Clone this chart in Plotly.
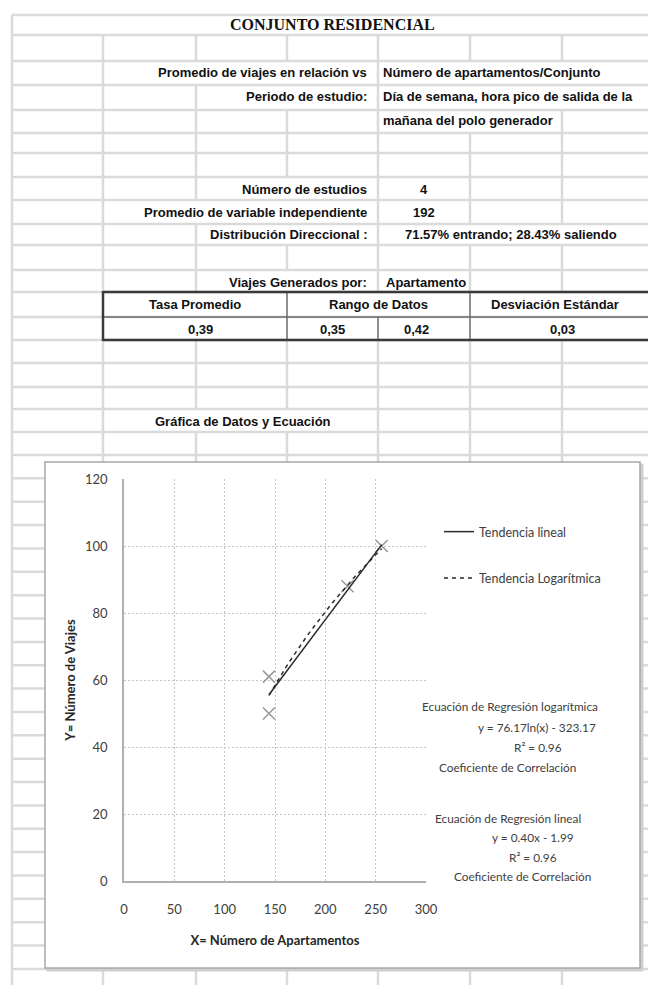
import numpy as np
import plotly.graph_objects as go

# ---------------- data ----------------
X_APTOS = [144, 144, 222, 256]          # X = Número de Apartamentos
Y_VIAJES = [61, 50, 88, 100]            # Y = Número de Viajes
LIN_COEF = [0.40, -1.99]                # y = a*x + b
LOG_COEF = [76.17, -323.17]             # y = a*ln(x) + b
TREND_NAMES = ["Tendencia lineal", "Tendencia Logarítmica"]
X_TICKS = [0, 50, 100, 150, 200, 250, 300]
Y_TICKS = [0, 20, 40, 60, 80, 100, 120]

TITLE = "CONJUNTO RESIDENCIAL"
INFO_LABELS = ["Promedio de viajes en relación vs", "Periodo de estudio:"]
INFO_VALUES = ["Número de apartamentos/Conjunto", "Día de semana, hora pico de salida de la",
               "mañana del polo generador"]
SUMMARY_LABELS = ["Número de estudios", "Promedio de variable independiente", "Distribución Direccional :"]
SUMMARY_VALUES = ["4", "192", "71.57% entrando; 28.43% saliendo"]
GEN_LABEL = ["Viajes Generados por:", "Apartamento"]
TABLE_HEADERS = ["Tasa Promedio", "Rango de Datos", "Desviación Estándar"]
TABLE_VALUES = ["0,39", "0,35", "0,42", "0,03"]
SECTION_LABEL = "Gráfica de Datos y Ecuación"
EQ_LOG = ["Ecuación de Regresión logarítmica", "y = 76.17ln(x) - 323.17", "R² = 0.96",
          "Coeficiente de Correlación"]
EQ_LIN = ["Ecuación de Regresión lineal", "y = 0.40x - 1.99", "R² = 0.96",
          "Coeficiente de Correlación"]

# ---------------- layout helpers ----------------
W, H = 648, 985


def px(x):
    return x / W


def py(y):
    return 1 - y / H


GRID = "#dadada"
GW = 2.5
DARK = "#3a3a3a"
MID = "#6a6a6a"

COLS = [12, 103, 196, 287, 378, 470, 562]
ROWS = [15, 35, 61, 85, 110, 133, 153, 177, 200, 224, 245, 270, 292, 317, 340, 363, 387, 409, 432, 455]
ALL = COLS
SEG_COLS = [
    [12],
    ALL,
    [12, 103, 378],
    [12, 103, 196, 378],
    [12, 103, 196, 287, 378, 562],
    ALL,
    ALL,
    [12, 103, 196, 378, 470, 562],
    [12, 103, 378, 470, 562],
    [12, 103, 196, 378],
    ALL,
    [12, 103, 196, 378, 470, 562],
    [12],
    [12],
    ALL,
    ALL,
    ALL,
    [12, 103, 378, 470, 562],
    ALL,
]

shapes = []


def hline(y, x0, x1, color=GRID, w=GW):
    shapes.append(dict(type="line", xref="paper", yref="paper", x0=px(x0), x1=px(x1),
                       y0=py(y), y1=py(y), line=dict(color=color, width=w), layer="below"))


def vline(x, y0, y1, color=GRID, w=GW):
    shapes.append(dict(type="line", xref="paper", yref="paper", x0=px(x), x1=px(x),
                       y0=py(y0), y1=py(y1), line=dict(color=color, width=w), layer="below"))


def rect(x0, y0, x1, y1, fill, color, w):
    shapes.append(dict(type="rect", xref="paper", yref="paper", x0=px(x0), x1=px(x1),
                       y0=py(y1), y1=py(y0), fillcolor=fill, line=dict(color=color, width=w),
                       layer="below"))


# spreadsheet grid (upper part)
for y in ROWS:
    hline(y, 12, 648)
for i, seg in enumerate(SEG_COLS):
    for x in seg:
        vline(x, ROWS[i], ROWS[i + 1])

# grid behind chart object
chart_rows = []
k = 1
while 455 + k * 23.36 < 985:
    chart_rows.append(455 + k * 23.36)
    k += 1
for y in chart_rows:
    hline(y, 12, 648)
for x in COLS:
    vline(x, 455, 985)

# summary table box
hline(317, 103, 648, MID, 1.5)
vline(287, 292, 340, MID, 1.5)
vline(470, 292, 340, MID, 1.5)
vline(378, 317, 340, MID, 1.5)
hline(292, 103, 648, DARK, 2.5)
hline(340, 103, 648, DARK, 2.5)
vline(103, 291, 341, DARK, 2.5)

# chart object frame
rect(47, 464, 643, 971, "#cfcfcf", "#cfcfcf", 1)
rect(45, 462, 640, 968, "white", "#a8a8a8", 1.5)

# ---------------- text ----------------
SS_FONT = dict(family="Liberation Sans", size=13, color="#111111")
annotations = []


def text(t, x, y, anchor="left", font=None, **kw):
    annotations.append(dict(text=t, x=px(x), y=py(y), xref="paper", yref="paper",
                            xanchor=anchor, yanchor="middle", showarrow=False,
                            font=font or SS_FONT, **kw))


B = lambda s: "<b>" + s + "</b>"

text(B(TITLE), 333, 25, "center", dict(family="Liberation Serif", size=16, color="#111111"))
text(B(INFO_LABELS[0]), 369, 73, "right")
text(B(INFO_VALUES[0]), 381, 73, "left")
text(B(INFO_LABELS[1]), 369, 97, "right")
text(B(INFO_VALUES[1]), 381, 97, "left")
text(B(INFO_VALUES[2]), 381, 121, "left")

text(B(SUMMARY_LABELS[0]), 369, 189, "right")
text(B(SUMMARY_VALUES[0]), 424, 189, "center")
text(B(SUMMARY_LABELS[1]), 369, 212, "right")
text(B(SUMMARY_VALUES[1]), 424, 212, "center")
text(B(SUMMARY_LABELS[2]), 369, 235, "right")
text(B(SUMMARY_VALUES[2]), 403, 235, "left")

text(B(GEN_LABEL[0]), 369, 282, "right")
text(B(GEN_LABEL[1]), 384, 282, "left")
for t, cx in zip(TABLE_HEADERS, [195, 378, 555]):
    text(B(t), cx, 305, "center")
for t, cx in zip(TABLE_VALUES, [200, 332, 416, 562]):
    text(B(t), cx, 329, "center")
text(B(SECTION_LABEL), 153, 421, "left")

EQ_FONT = dict(family="Lato", size=11.8, color="#404040")
for t, cx, cy in zip(EQ_LOG, [510, 537, 538, 507], [706, 727, 747, 767]):
    text(t, cx, cy, "center", EQ_FONT)
for t, cx, cy in zip(EQ_LIN, [508, 533, 533, 522], [818, 837, 857, 876]):
    text(t, cx, cy, "center", EQ_FONT)

# ---------------- traces ----------------
x_min, x_max = min(X_APTOS), max(X_APTOS)
xs = np.linspace(x_min, x_max, 40)
y_lin = LIN_COEF[0] * xs + LIN_COEF[1]
y_log = LOG_COEF[0] * np.log(xs) + LOG_COEF[1]

fig = go.Figure()
fig.add_trace(go.Scatter(
    x=X_APTOS, y=Y_VIAJES, mode="markers", showlegend=False,
    marker=dict(symbol="x-thin", size=12, line=dict(color="#9a9a9a", width=1.6)),
))
fig.add_trace(go.Scatter(
    x=xs, y=y_lin, mode="lines", name=TREND_NAMES[0], legendgroup="a",
    line=dict(color="#2b2b2b", width=1.5),
))
fig.add_trace(go.Scatter(
    x=xs, y=y_log, mode="lines", name=TREND_NAMES[1], legendgroup="b",
    line=dict(color="#2b2b2b", width=1.5, dash="4px,4px"),
))

AX_FONT = dict(family="Lato", size=13, color="#404040")
fig.update_layout(
    width=W, height=H,
    margin=dict(l=0, r=0, t=0, b=0),
    paper_bgcolor="white", plot_bgcolor="rgba(0,0,0,0)",
    shapes=shapes, annotations=annotations,
    font=dict(family="Lato", color="#404040"),
    showlegend=True,
    legend=dict(x=px(439), y=py(517), xanchor="left", yanchor="top",
                font=dict(family="Lato", size=12.5, color="#404040"),
                bgcolor="rgba(0,0,0,0)", tracegroupgap=27, traceorder="grouped",
                itemwidth=30),
    xaxis=dict(domain=[px(124), px(426)], range=[0, 300], tickvals=X_TICKS,
               showgrid=True, gridcolor="#c4c4c4", griddash="2px,2px", gridwidth=1,
               showline=True, linecolor="#b0b0b0", linewidth=1.5, zeroline=False,
               ticks="", tickfont=AX_FONT, ticklabelstandoff=16, automargin=False,
               title=dict(text="<b>X= Número de Apartamentos</b>", standoff=20,
                          font=dict(family="Lato", size=13, color="#262626"))),
    yaxis=dict(domain=[py(881), py(479)], range=[0, 120], tickvals=Y_TICKS,
               showgrid=True, gridcolor="#c4c4c4", griddash="2px,2px", gridwidth=1,
               showline=True, linecolor="#b0b0b0", linewidth=1.5, zeroline=False,
               ticks="", tickfont=AX_FONT, ticklabelstandoff=12, automargin=False,
               title=dict(text="<b>Y= Número de Viajes</b>", standoff=6,
                          font=dict(family="Lato", size=13, color="#262626"))),
)

fig.write_html("out.html", config={"displayModeBar": False},
               post_script="document.body.style.margin='0px';document.body.style.overflow='hidden';")
